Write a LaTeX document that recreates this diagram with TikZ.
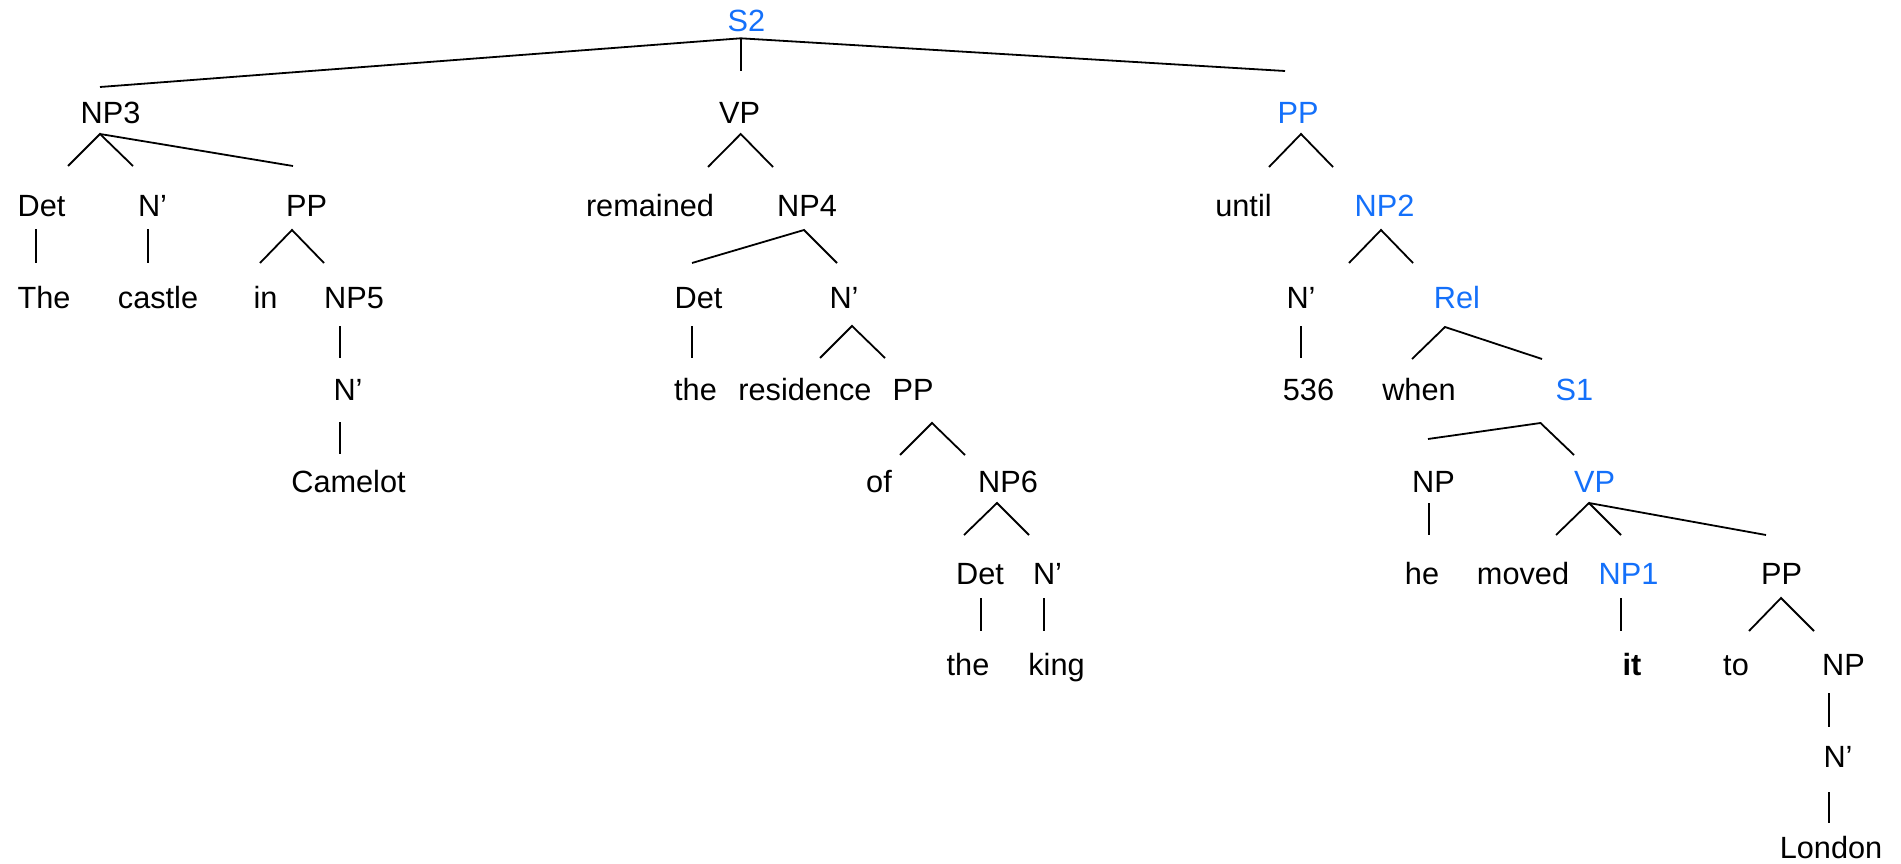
\documentclass[tikz,border=0pt]{standalone}
\usepackage{fontspec}
\setmainfont{Liberation Sans}
\definecolor{treeblue}{RGB}{20,112,250}
\begin{document}
\begin{tikzpicture}[x=1pt,y=-1pt,
  lab/.style={inner sep=0pt,anchor=base,font=\fontsize{30.7}{36}\selectfont},
  hl/.style={lab,text=treeblue},
  edge/.style={line width=1.8pt,black}]
\useasboundingbox (0,0) rectangle (1901,864);
% ---- nodes ----
\node[hl]  (s2)       at (746.5,32)  {S2};
\node[lab] (np3)      at (110.5,124) {NP3};
\node[lab] (vp)       at (739.5,124) {VP};
\node[hl]  (pp)       at (1298,124)  {PP};
\node[lab] (det1)     at (41.5,216)  {Det};
\node[lab] (n1)       at (152.5,216) {N’};
\node[lab] (pp1)      at (306.5,216) {PP};
\node[lab] (remained) at (650,216)   {remained};
\node[lab] (np4)      at (807,216)   {NP4};
\node[lab] (until)    at (1243.5,216){until};
\node[hl]  (np2)      at (1384.5,216){NP2};
\node[lab] (the1)     at (44,308)    {The};
\node[lab] (castle)   at (158,308)   {castle};
\node[lab] (in)       at (265.5,308) {in};
\node[lab] (np5)      at (354,308)   {NP5};
\node[lab] (det2)     at (698.5,308) {Det};
\node[lab] (n2)       at (844,308)   {N’};
\node[lab] (n3)       at (1301,308)  {N’};
\node[hl]  (rel)      at (1457,308)  {Rel};
\node[lab] (n4)       at (348,400)   {N’};
\node[lab] (the2)     at (695.5,400) {the};
\node[lab] (residence) at (805,400)  {residence};
\node[lab] (pp2)      at (913,400)   {PP};
\node[lab] (c536)     at (1308.5,400){536};
\node[lab] (when)     at (1419,400)  {when};
\node[hl]  (s1)       at (1574.5,400){S1};
\node[lab] (camelot)  at (348.5,492) {Camelot};
\node[lab] (of)       at (879,492)   {of};
\node[lab] (np6)      at (1008,492)  {NP6};
\node[lab] (npa)      at (1433.5,492){NP};
\node[hl]  (vp2)      at (1594.5,492){VP};
\node[lab] (det3)     at (980,584)   {Det};
\node[lab] (n5)       at (1047.5,584){N’};
\node[lab] (he)       at (1422,584)  {he};
\node[lab] (moved)    at (1523,584)  {moved};
\node[hl]  (np1)      at (1628.5,584){NP1};
\node[lab] (pp3)      at (1781.5,584){PP};
\node[lab] (the3)     at (968,675)   {the};
\node[lab] (king)     at (1056.5,675){king};
\node[lab,font=\fontsize{30.7}{36}\selectfont\bfseries] (it) at (1632,675) {it};
\node[lab] (to)       at (1736,675)  {to};
\node[lab] (npb)      at (1843.5,675){NP};
\node[lab] (n6)       at (1838,767)  {N’};
\node[lab] (london)   at (1831,858)  {London};
% ---- connector end points ----
\coordinate (s2a) at (740.7,38.3);
\coordinate (s2l) at (100,87);
\coordinate (s2m) at (740.7,71);
\coordinate (s2r) at (1285,71);
\coordinate (np3a) at (100,134);
\coordinate (np3e1) at (68,166);
\coordinate (np3e2) at (133,166);
\coordinate (np3e3) at (293,166);
\coordinate (vpa) at (740.7,134);
\coordinate (vpe1) at (708,167);
\coordinate (vpe2) at (773,167);
\coordinate (ppa) at (1301,134);
\coordinate (ppe1) at (1269,167);
\coordinate (ppe2) at (1333,167);
\coordinate (det1a) at (36,229);
\coordinate (det1e) at (36,263);
\coordinate (n1a) at (148,229);
\coordinate (n1e) at (148,263);
\coordinate (pp1a) at (292,230);
\coordinate (pp1e1) at (260,263);
\coordinate (pp1e2) at (324,263);
\coordinate (np4a) at (804,230);
\coordinate (np4e1) at (692,263);
\coordinate (np4e2) at (837,263);
\coordinate (np2a) at (1381,230);
\coordinate (np2e1) at (1349,263);
\coordinate (np2e2) at (1413,263);
\coordinate (np5a) at (340,326);
\coordinate (np5e) at (340,358);
\coordinate (det2a) at (692,326);
\coordinate (det2e) at (692,358);
\coordinate (n2a) at (852,326);
\coordinate (n2e1) at (820,358);
\coordinate (n2e2) at (885,358);
\coordinate (n3a) at (1301,326);
\coordinate (n3e) at (1301,358);
\coordinate (rela) at (1445,327);
\coordinate (rele1) at (1412,359);
\coordinate (rele2) at (1542,359);
\coordinate (n4a) at (340,422);
\coordinate (n4e) at (340,454);
\coordinate (pp2a) at (932,423);
\coordinate (pp2e1) at (900,455);
\coordinate (pp2e2) at (965,455);
\coordinate (s1a) at (1540.5,423);
\coordinate (s1e1) at (1428,439);
\coordinate (s1e2) at (1574,455);
\coordinate (np6a) at (997,503);
\coordinate (np6e1) at (964,535);
\coordinate (np6e2) at (1029,535);
\coordinate (npaa) at (1429,503);
\coordinate (npae) at (1429,535);
\coordinate (vp2a) at (1589,503);
\coordinate (vp2e1) at (1556,535);
\coordinate (vp2e2) at (1621,535);
\coordinate (vp2e3) at (1766,535);
\coordinate (det3a) at (981,598);
\coordinate (det3e) at (981,631);
\coordinate (n5a) at (1044,598);
\coordinate (n5e) at (1044,631);
\coordinate (np1a) at (1621,598);
\coordinate (np1e) at (1621,631);
\coordinate (pp3a) at (1781,598);
\coordinate (pp3e1) at (1749,631);
\coordinate (pp3e2) at (1814,631);
\coordinate (npba) at (1829,693);
\coordinate (npbe) at (1829,727);
\coordinate (n6a) at (1829,792);
\coordinate (n6e) at (1829,823);
% ---- connectors ----
\draw[edge] (s2l) -- (s2a) -- (s2r);
\draw[edge] (s2a) -- (s2m);
\draw[edge] (np3e1) -- (np3a) -- (np3e2);
\draw[edge] (np3a) -- (np3e3);
\draw[edge] (vpe1) -- (vpa) -- (vpe2);
\draw[edge] (ppe1) -- (ppa) -- (ppe2);
\draw[edge] (det1a) -- (det1e);
\draw[edge] (n1a) -- (n1e);
\draw[edge] (pp1e1) -- (pp1a) -- (pp1e2);
\draw[edge] (np4e1) -- (np4a) -- (np4e2);
\draw[edge] (np2e1) -- (np2a) -- (np2e2);
\draw[edge] (np5a) -- (np5e);
\draw[edge] (det2a) -- (det2e);
\draw[edge] (n2e1) -- (n2a) -- (n2e2);
\draw[edge] (n3a) -- (n3e);
\draw[edge] (rele1) -- (rela) -- (rele2);
\draw[edge] (n4a) -- (n4e);
\draw[edge] (pp2e1) -- (pp2a) -- (pp2e2);
\draw[edge] (s1e1) -- (s1a) -- (s1e2);
\draw[edge] (np6e1) -- (np6a) -- (np6e2);
\draw[edge] (npaa) -- (npae);
\draw[edge] (vp2e1) -- (vp2a) -- (vp2e2);
\draw[edge] (vp2a) -- (vp2e3);
\draw[edge] (det3a) -- (det3e);
\draw[edge] (n5a) -- (n5e);
\draw[edge] (np1a) -- (np1e);
\draw[edge] (pp3e1) -- (pp3a) -- (pp3e2);
\draw[edge] (npba) -- (npbe);
\draw[edge] (n6a) -- (n6e);
\end{tikzpicture}
\end{document}
